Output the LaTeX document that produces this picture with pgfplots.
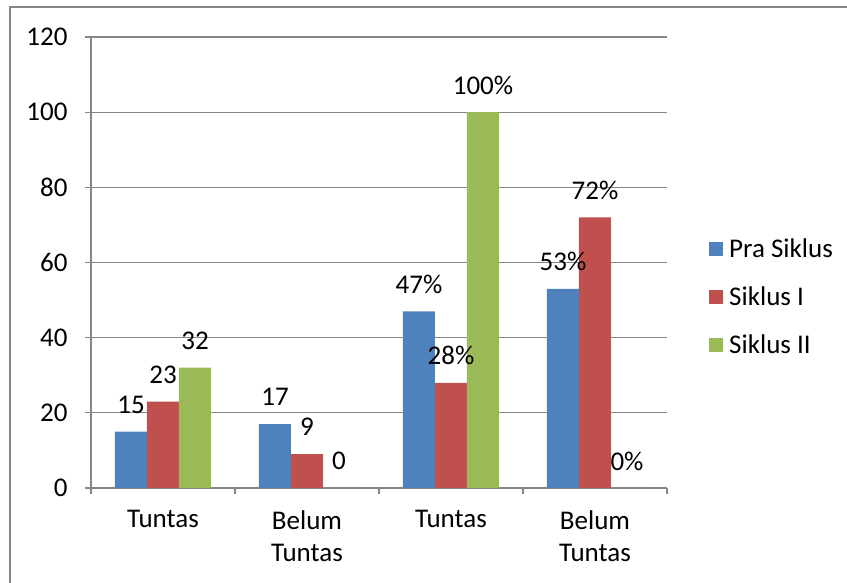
\documentclass[border=0pt]{standalone}
\usepackage{fontspec}
\setmainfont{Carlito}
\usepackage{pgfplots}
\pgfplotsset{compat=1.18}
\definecolor{pra}{RGB}{79,129,189}
\definecolor{sikA}{RGB}{192,80,77}
\definecolor{sikB}{RGB}{155,187,89}
\definecolor{linegray}{RGB}{134,134,134}
\newcommand{\chartfont}{\fontsize{27}{32}\selectfont}

\begin{document}
\begin{tikzpicture}[x=1pt,y=1pt]
\path[use as bounding box] (0,0) rectangle (847,583);
\draw[linegray, line width=2pt] (9.5,0) -- (9.5,575.5) -- (847,575.5);
\begin{axis}[
    at={(91pt,95pt)}, anchor=south west,
    scale only axis, width=576pt, height=451pt,
    ybar=0pt, bar width=32pt,
    ymin=0, ymax=120, ytick={0,20,...,120},
    xmin=-0.5, xmax=3.5,
    xtick={0,1,2,3},
    xticklabels={Tuntas, Belum\\Tuntas, Tuntas, Belum\\Tuntas},
    minor xtick={-0.5,0.5,1.5,2.5,3.5},
    axis x line*=bottom, axis y line*=left,
    axis line style={linegray, line width=1.3pt},
    ymajorgrids=true,
    grid style={linegray, line width=1.3pt},
    tick align=outside,
    major x tick style={draw=none},
    minor x tick style={linegray, line width=1.3pt},
    major y tick style={linegray, line width=1.3pt},
    major tick length=6pt, minor tick length=6pt,
    /pgf/number format/assume math mode=true,
    every tick label/.append style={font=\chartfont, text=black},
    yticklabel style={xshift=-14pt},
    xticklabel style={align=center, yshift=-13pt},
    nodes near coords,
    point meta=explicit symbolic,
    every node near coord/.append style={font=\chartfont, anchor=center, yshift=27pt},
    legend image code/.code={\fill[#1] (0pt,-7pt) rectangle (14pt,7pt); \path (0pt,0pt) -- (18pt,0pt);},
    legend style={draw=none, fill=none, font=\chartfont, at={(1.073,0.4235)}, anchor=west,
        row sep=24pt, inner sep=0pt, nodes={inner sep=2pt}},
    legend cell align=left,
]
\addplot[fill=pra, draw=none] coordinates {(0,15) [15] (1,17) [17] (2,47) [47\%] (3,53) [53\%]};
\addlegendentry{Pra Siklus}
\addplot[fill=sikA, draw=none] coordinates {(0,23) [23] (1,9) [9] (2,28) [28\%] (3,72) [72\%]};
\addlegendentry{Siklus I}
\addplot[fill=sikB, draw=none] coordinates {(0,32) [32] (1,0) [0] (2,100) [100\%] (3,0) [0\%]};
\addlegendentry{Siklus II}
\end{axis}
\end{tikzpicture}
\end{document}
